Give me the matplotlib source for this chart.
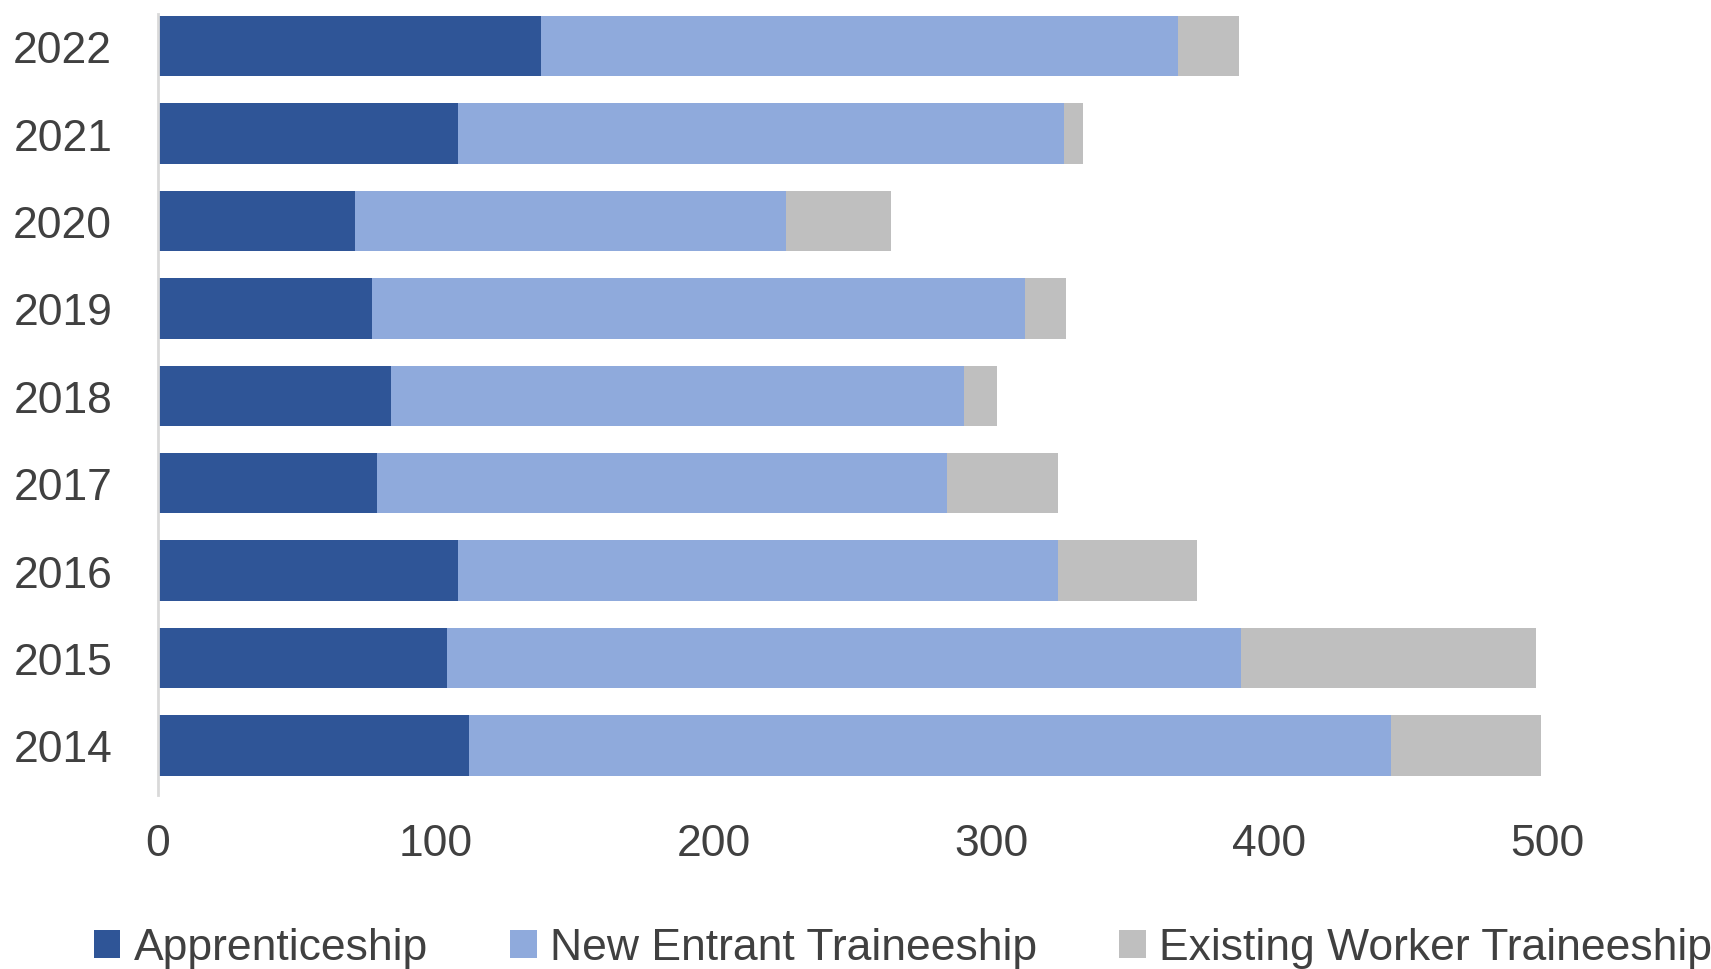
import matplotlib
matplotlib.use("Agg")
import matplotlib.pyplot as plt
import numpy as np
from matplotlib.patches import Patch

years = ["2014", "2015", "2016", "2017", "2018", "2019", "2020", "2021", "2022"]
apprenticeship = [112, 104, 108, 79, 84, 77, 71, 108, 138]
new_entrant = [332, 286, 216, 205, 206, 235, 155, 218, 229]
existing_worker = [54, 106, 50, 40, 12, 15, 38, 7, 22]
series_names = ["Apprenticeship", "New Entrant Traineeship", "Existing Worker Traineeship"]
colors = ["#2F5597", "#8FAADC", "#BFBFBF"]
xticks = [0, 100, 200, 300, 400, 500]

plt.rcParams['font.family'] = ['Liberation Sans', 'DejaVu Sans']

W, H = 1711, 970
fig = plt.figure(figsize=(W / 100, H / 100), dpi=100)
ax_left, ax_right = 158, 1547
ax_top, ax_bottom = 15, 796
ax = fig.add_axes([ax_left / W, 1 - ax_bottom / H, (ax_right - ax_left) / W, (ax_bottom - ax_top) / H])

y = np.arange(len(years))
h = 0.69
left = np.zeros(len(years))
for vals, name, c in zip([apprenticeship, new_entrant, existing_worker], series_names, colors):
    ax.barh(y, vals, height=h, left=left, color=c, label=name, edgecolor='none')
    left = left + np.array(vals)

ax.set_ylim(-0.567, 8.368)
ax.set_xlim(0, 500)
ax.set_yticks(y)
ax.set_yticklabels(years)
ax.set_xticks(xticks)
ax.set_xticklabels([str(t) for t in xticks])
for s in ['top', 'right', 'bottom']:
    ax.spines[s].set_visible(False)
ax.spines['left'].set_color('#D9D9D9')
ax.spines['left'].set_linewidth(2)
ax.tick_params(axis='both', length=0, labelsize=32, colors='#404040')
ax.tick_params(axis='y', pad=33)
ax.tick_params(axis='x', pad=20)

handles = [Patch(facecolor=c, edgecolor='none') for c in colors]
fig.legend(handles, series_names, loc='center', bbox_to_anchor=(903 / W, 1 - 949 / H),
           ncol=3, frameon=False, fontsize=32, labelcolor='#404040',
           handlelength=0.6, handleheight=0.6, handletextpad=0.3, columnspacing=1.85,
           borderpad=0, borderaxespad=0)

fig.savefig("out.png", dpi=100)
